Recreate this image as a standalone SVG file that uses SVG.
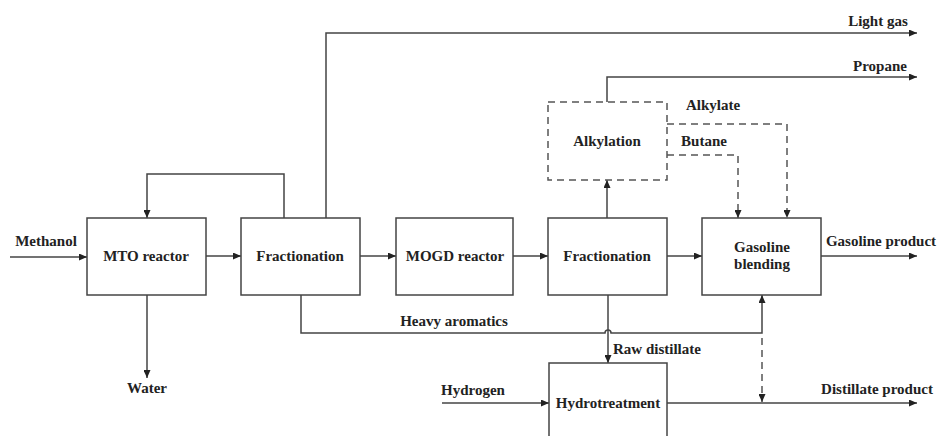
<svg xmlns="http://www.w3.org/2000/svg" width="938" height="436" viewBox="0 0 938 436">
<style>
.box{fill:#fff;stroke:#444;stroke-width:1.5}
.dbox{fill:#fff;stroke:#555;stroke-width:1.5;stroke-dasharray:7 5}
.ln{fill:none;stroke:#444;stroke-width:1.5}
.dl{fill:none;stroke:#555;stroke-width:1.5;stroke-dasharray:7 5}
text{font-family:"Liberation Serif","DejaVu Serif",serif;font-weight:bold;font-size:15px;fill:#222}
.m{text-anchor:middle}
</style>
<defs>
<marker id="ah" markerUnits="userSpaceOnUse" markerWidth="9" markerHeight="7" refX="8" refY="3.5" orient="auto">
<path d="M0,0 L8,3.5 L0,7 z" fill="#222"/>
</marker>
</defs>
<rect width="938" height="436" fill="#fff"/>
<g id="connectors">
<path class="ln" d="M10 257 H87" marker-end="url(#ah)"/>
<path class="ln" d="M206 256 H241" marker-end="url(#ah)"/>
<path class="ln" d="M360 256 H396" marker-end="url(#ah)"/>
<path class="ln" d="M513 256 H548" marker-end="url(#ah)"/>
<path class="ln" d="M667 256 H702" marker-end="url(#ah)"/>
<path class="ln" d="M821 256 H917" marker-end="url(#ah)"/>
<path class="ln" d="M284 218 V174 H147 V218" marker-end="url(#ah)"/>
<path class="ln" d="M147 295 V378" marker-end="url(#ah)"/>
<path class="ln" d="M326 218 V33 H917" marker-end="url(#ah)"/>
<path class="ln" d="M607 218 V180" marker-end="url(#ah)"/>
<path class="ln" d="M607 102 V77 H917" marker-end="url(#ah)"/>
<path class="dl" d="M667 124 H787 V218" marker-end="url(#ah)"/>
<path class="dl" d="M667 155 H738 V218" marker-end="url(#ah)"/>
<path class="ln" d="M301 295 V333 H605 A3 3 0 0 1 611 333 H762 V295" marker-end="url(#ah)"/>
<path class="ln" d="M608 295 V363" marker-end="url(#ah)"/>
<path class="ln" d="M442 403 H549" marker-end="url(#ah)"/>
<path class="ln" d="M667 403 H917" marker-end="url(#ah)"/>
<path class="dl" d="M762 338 V402" marker-end="url(#ah)"/>
</g>
<g id="mto"><rect class="box" x="87" y="218" width="119" height="77"/><text class="m" x="146" y="261">MTO reactor</text></g>
<g id="frac1"><rect class="box" x="241" y="218" width="119" height="77"/><text class="m" x="300" y="261">Fractionation</text></g>
<g id="mogd"><rect class="box" x="396" y="218" width="117" height="77"/><text class="m" x="455" y="261">MOGD reactor</text></g>
<g id="frac2"><rect class="box" x="548" y="218" width="119" height="77"/><text class="m" x="607" y="261">Fractionation</text></g>
<g id="blend"><rect class="box" x="702" y="218" width="119" height="77"/><text class="m" x="762" y="252">Gasoline</text><text class="m" x="762" y="269">blending</text></g>
<g id="alky"><rect class="dbox" x="548" y="102" width="119" height="78"/><text class="m" x="607" y="146">Alkylation</text></g>
<g id="hydro"><rect class="box" x="549" y="363" width="118" height="80"/><text class="m" x="608" y="408">Hydrotreatment</text></g>
<g id="labels">
<text class="m" x="46" y="246">Methanol</text>
<text class="m" x="147" y="393">Water</text>
<text class="m" x="878" y="26">Light gas</text>
<text class="m" x="880" y="71">Propane</text>
<text class="m" x="713" y="110">Alkylate</text>
<text class="m" x="704" y="146">Butane</text>
<text class="m" x="881" y="246">Gasoline product</text>
<text class="m" x="454" y="326">Heavy aromatics</text>
<text x="613" y="354">Raw distillate</text>
<text class="m" x="473" y="395">Hydrogen</text>
<text class="m" x="877" y="394">Distillate product</text>
</g>
</svg>
